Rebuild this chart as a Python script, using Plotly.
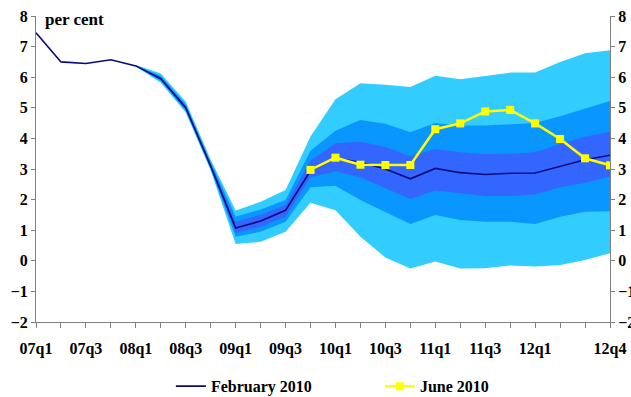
import plotly.graph_objects as go

quarters = ["07q1", "07q2", "07q3", "07q4", "08q1", "08q2", "08q3", "08q4",
            "09q1", "09q2", "09q3", "09q4", "10q1", "10q2", "10q3", "10q4",
            "11q1", "11q2", "11q3", "11q4", "12q1", "12q2", "12q3", "12q4"]
shown_labels = ["07q1", "07q3", "08q1", "08q3", "09q1", "09q3", "10q1", "10q3",
                "11q1", "11q3", "12q1", "12q4"]

february_2010 = [7.45, 6.5, 6.45, 6.57, 6.37, 5.95, 5.0, 3.1, 1.07, 1.3, 1.65, 2.95,
                 3.35, 3.22, 3.0, 2.68, 3.02, 2.88, 2.82, 2.86, 2.87, 3.08, 3.3, 3.45]

june_quarters = quarters[11:]
june_2010 = [2.97, 3.37, 3.14, 3.13, 3.13, 4.3, 4.49, 4.88, 4.93, 4.49, 3.98, 3.35, 3.12]

fan_quarters = quarters[4:]
outer_hi = [6.4, 6.12, 5.2, 3.3, 1.64, 1.93, 2.31, 4.06, 5.28, 5.8, 5.75, 5.68,
            6.05, 5.93, 6.04, 6.15, 6.15, 6.5, 6.78, 6.88]
mid_hi = [6.38, 6.05, 5.12, 3.22, 1.44, 1.68, 1.99, 3.6, 4.25, 4.6, 4.48, 4.2,
          4.5, 4.42, 4.42, 4.45, 4.5, 4.72, 4.98, 5.22]
in_hi = [6.37, 6.0, 5.05, 3.17, 1.28, 1.5, 1.82, 3.27, 3.84, 3.89, 3.72, 3.42,
         3.65, 3.55, 3.49, 3.5, 3.55, 3.82, 4.05, 4.22]
in_lo = [6.37, 5.92, 4.95, 3.05, 0.92, 1.11, 1.44, 2.73, 2.93, 2.72, 2.38, 2.02,
         2.3, 2.2, 2.12, 2.12, 2.17, 2.4, 2.55, 2.75]
mid_lo = [6.36, 5.88, 4.9, 3.0, 0.79, 0.95, 1.28, 2.4, 2.45, 1.99, 1.6, 1.2,
          1.5, 1.33, 1.28, 1.28, 1.2, 1.44, 1.6, 1.62]
outer_lo = [6.35, 5.82, 4.85, 2.95, 0.55, 0.62, 0.95, 1.9, 1.65, 0.79, 0.11, -0.25,
            -0.02, -0.25, -0.24, -0.15, -0.19, -0.14, 0.03, 0.25]

y_ticks = [8, 7, 6, 5, 4, 3, 2, 1, 0, -1, -2]

FONT = "Liberation Serif"
idx = {q: i for i, q in enumerate(quarters)}
fan_x = [idx[q] for q in fan_quarters]

fig = go.Figure()

def band(hi, lo, color):
    fig.add_trace(go.Scatter(
        x=fan_x + fan_x[::-1], y=hi + lo[::-1], fill="toself",
        fillcolor=color, line=dict(width=0), mode="lines",
        showlegend=False, hoverinfo="skip"))

band(outer_hi, outer_lo, "#33CCFF")
band(mid_hi, mid_lo, "#0A96FF")
band(in_hi, in_lo, "#3366FF")

fig.add_trace(go.Scatter(
    x=[idx[q] for q in quarters], y=february_2010, mode="lines",
    name="February 2010", line=dict(color="#0A0A78", width=1.6)))
fig.add_trace(go.Scatter(
    x=[idx[q] for q in june_quarters], y=june_2010, mode="lines+markers",
    name="June 2010", line=dict(color="#FFFF00", width=2.5),
    marker=dict(symbol="square", size=8, color="#FFFF00")))
# invisible trace to activate the right axis
fig.add_trace(go.Scatter(x=[0], y=[0], yaxis="y2", mode="markers",
                         marker=dict(opacity=0), showlegend=False, hoverinfo="skip"))

fig.update_layout(
    width=631, height=397,
    margin=dict(l=36, r=21, t=16, b=75, autoexpand=False),
    paper_bgcolor="white", plot_bgcolor="white",
    font=dict(family=FONT, size=16, color="black"),
    xaxis=dict(
        range=[0, 23], tickmode="array",
        tickvals=list(range(len(quarters))),
        ticktext=[q if q in shown_labels else "" for q in quarters],
        ticks="outside", ticklen=5, tickcolor="#808080",
        showline=True, linecolor="#808080", linewidth=1,
        showgrid=False, zeroline=False, tickangle=0,
        tickfont=dict(family=FONT, size=16, color="black", weight="bold"),
        ticklabelstandoff=7, automargin=False),
    yaxis=dict(
        range=[-2, 8], tickmode="array", tickvals=y_ticks,
        ticks="outside", ticklen=4, tickcolor="#808080",
        showline=True, linecolor="#808080", linewidth=1,
        showgrid=False, zeroline=False,
        tickfont=dict(family=FONT, size=16, color="black", weight="bold"),
        automargin=False),
    yaxis2=dict(
        range=[-2, 8], tickmode="array", tickvals=y_ticks, overlaying="y",
        side="right", ticks="outside", ticklen=4, tickcolor="#808080",
        showline=True, linecolor="#808080", linewidth=1,
        showgrid=False, zeroline=False,
        tickfont=dict(family=FONT, size=16, color="black", weight="bold"),
        automargin=False),
    legend=dict(orientation="h", x=0.235, xanchor="left", y=-0.21, yanchor="middle",
                font=dict(family=FONT, size=16, color="black", weight="bold"),
                itemwidth=30, entrywidth=164, entrywidthmode="pixels",
                bgcolor="rgba(0,0,0,0)"),
    annotations=[dict(text="<b>per cent</b>", xref="paper", yref="paper",
                      x=0.012, y=0.99, xanchor="left", yanchor="middle",
                      showarrow=False, font=dict(family=FONT, size=17, color="black"))],
)

fig.write_html("out.html", config={"displayModeBar": False},
               post_script="document.body.style.margin='0';document.body.style.overflow='hidden';")
